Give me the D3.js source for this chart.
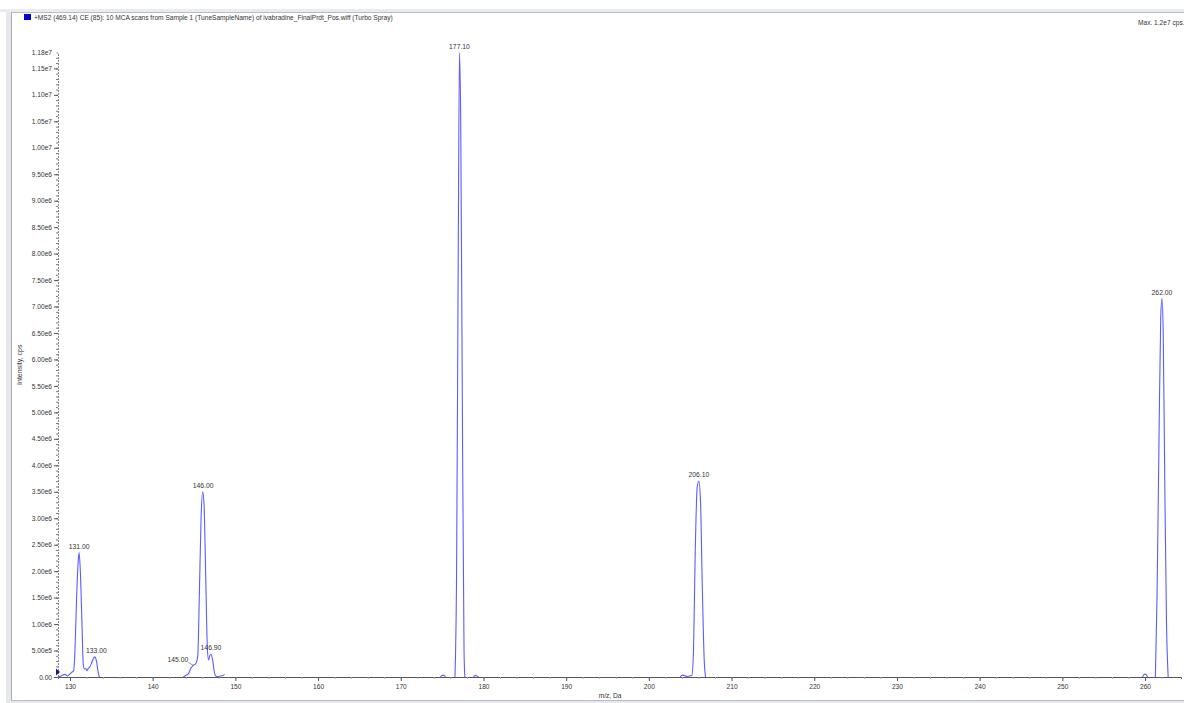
<!DOCTYPE html>
<html>
<head>
<meta charset="utf-8">
<script src="https://cdn.jsdelivr.net/npm/d3@7"></script>
<style>
  body { margin: 0; background: #fff; }
  svg text { font-family: "Liberation Sans", Arial, sans-serif; fill: #333; }
</style>
</head>
<body>
<svg id="chart" width="1184" height="703"></svg>
<script>
/* MS2 product ion spectrum, drawn as a profile trace with peak labels. */

// Profile trace, one pair of arrays per continuous stretch (m/z, cps).
var seg1Mz = [128.55, 128.8, 129.1, 129.4, 129.7, 130.0, 130.3, 130.45, 130.6, 130.8, 131.0, 131.1, 131.25, 131.45, 131.6, 131.75, 131.9, 132.05, 132.2, 132.4, 132.6, 132.8, 133.0, 133.2, 133.4, 133.55];
var seg1Int = [2e4, 1e4, 4e4, 5e4, 2e4, 6e4, 1.0e5, 1.2e5, 5e5, 1.5e6, 2.2e6, 2.35e6, 2.0e6, 1.0e6, 2.5e5, 1.5e5, 1.6e5, 1.2e5, 1.6e5, 1.9e5, 2.6e5, 3.4e5, 3.8e5, 3.0e5, 1.0e5, 0];

var seg2Mz = [143.7, 144.0, 144.3, 144.6, 144.9, 145.2, 145.45, 145.65, 145.85, 146.05, 146.2, 146.4, 146.6, 146.75, 146.9, 147.05, 147.25, 147.45, 147.65, 147.9, 148.2, 148.5, 148.7];
var seg2Int = [0, 3e4, 6e4, 1.6e5, 2.2e5, 2.5e5, 4e5, 1.6e6, 3.0e6, 3.5e6, 3.3e6, 2.0e6, 6e5, 3.2e5, 4.0e5, 4.3e5, 3.2e5, 1.0e5, 1.5e4, 1e4, 2e4, 3e4, 5e4];

var seg3Mz = [174.8, 175.0, 175.2, 175.4];
var seg3Int = [0, 3e4, 3e4, 0];

var seg4Mz = [176.55, 176.75, 176.95, 177.1, 177.25, 177.45, 177.65, 177.75];
var seg4Int = [0, 2e6, 8e6, 1.18e7, 1.05e7, 5e6, 5e5, 0];

var seg5Mz = [178.8, 179.0, 179.2, 179.4];
var seg5Int = [0, 3e4, 2e4, 0];

var seg6Mz = [203.8, 204.0, 204.3, 204.6, 204.9, 205.2, 205.4, 205.6, 205.85, 206.05, 206.25, 206.45, 206.7, 206.85];
var seg6Int = [0, 3e4, 3e4, 1e4, 2e4, 3e4, 5e5, 2.3e6, 3.6e6, 3.7e6, 3.3e6, 1.8e6, 3e5, 0];

var seg7Mz = [259.7, 259.9, 260.1, 260.3];
var seg7Int = [0, 5e4, 5e4, 0];

var seg8Mz = [261.25, 261.45, 261.7, 261.9, 262.05, 262.2, 262.4, 262.6, 262.8];
var seg8Int = [0, 1.5e6, 4.6e6, 6.8e6, 7.15e6, 6.5e6, 3.5e6, 1e6, 0];

// Peak labels.
var peakText = ["131.00", "133.00", "145.00", "146.00", "146.90", "177.10", "206.10", "262.00"];
var peakMz = [131.1, 133.2, 144.9, 146.1, 147.05, 177.1, 206.05, 262.05];
var peakInt = [2.35e6, 3.8e5, 2.2e5, 3.5e6, 4.3e5, 1.18e7, 3.7e6, 7.15e6];

// Axis ticks.
var xTicks = [130, 140, 150, 160, 170, 180, 190, 200, 210, 220, 230, 240, 250, 260];
var yTicks = [0, 5e5, 1e6, 1.5e6, 2e6, 2.5e6, 3e6, 3.5e6, 4e6, 4.5e6, 5e6, 5.5e6, 6e6, 6.5e6, 7e6, 7.5e6, 8e6, 8.5e6, 9e6, 9.5e6, 1e7, 1.05e7, 1.1e7, 1.15e7];
var yMax = 1.18e7;

var titleText = "+MS2 (469.14) CE (85): 10 MCA scans from Sample 1 (TuneSampleName) of ivabradine_FinalPrdt_Pos.wiff (Turbo Spray)";
var maxText = "Max. 1.2e7 cps.";

(function () {
  "use strict";

  var svg = d3.select("#chart"),
    plotLeft = 58,
    plotRight = 1181,
    plotTop = 52.5,
    plotBottom = 677,
    lineColor = "#5c5cff",
    fontFamily = "Liberation Sans, Arial, sans-serif";

  // Window frame.
  svg.append("rect").attr("x", 0).attr("y", 9).attr("width", 1184).attr("height", 3).attr("fill", "#e8ebf0");
  svg.append("line").attr("x1", 8).attr("x2", 1184).attr("y1", 12.5).attr("y2", 12.5).attr("stroke", "#b8bcc4");
  svg.append("rect").attr("x", 6).attr("y", 12).attr("width", 5).attr("height", 691).attr("fill", "#e6e8ec");
  svg.append("line").attr("x1", 11.5).attr("x2", 11.5).attr("y1", 12).attr("y2", 701).attr("stroke", "#a8acb4");
  svg.append("line").attr("x1", 11).attr("x2", 1184).attr("y1", 700.5).attr("y2", 700.5).attr("stroke", "#b8bcc4");
  svg.append("rect").attr("x", 11).attr("y", 701).attr("width", 1173).attr("height", 2).attr("fill", "#e6e8ec");

  var x = d3.scaleLinear().domain([128.55, 264.35]).range([plotLeft, plotRight]);
  var y = d3.scaleLinear().domain([0, yMax]).range([plotBottom, plotTop]);

  // Header.
  svg.append("rect").attr("x", 24).attr("y", 14).attr("width", 7).attr("height", 6).attr("fill", "#0000d0");
  svg.append("text").attr("x", 34).attr("y", 20).attr("font-size", 6.6).text(titleText);
  svg.append("text").attr("x", 1138).attr("y", 25).attr("font-size", 6.6).text(maxText);

  // Y axis with minor ticks every 1e5.
  var yMinor = svg.append("g").attr("transform", "translate(" + plotLeft + ",0)")
    .call(d3.axisLeft(y).tickValues(d3.range(0, yMax, 1e5)).tickSize(2).tickFormat(""));
  yMinor.selectAll(".tick line").attr("stroke", "#777");
  yMinor.select(".domain").attr("stroke", "#888").attr("stroke-dasharray", "2,1");

  var fmt = d3.format(".2e");
  var yMajor = svg.append("g").attr("transform", "translate(" + plotLeft + ",0)")
    .call(d3.axisLeft(y).tickValues(yTicks.concat([yMax])).tickSize(4).tickPadding(2)
      .tickFormat(function (d) { return d === 0 ? "0.00" : fmt(d).replace("+", ""); }));
  yMajor.select(".domain").remove();
  yMajor.selectAll(".tick line").attr("stroke", "#555");
  yMajor.selectAll(".tick text").attr("font-size", 6.6).attr("font-family", fontFamily).attr("fill", "#444");
  yMajor.selectAll(".tick").filter(function (d) { return d === yMax; }).select("line").remove();

  svg.append("text")
    .attr("transform", "translate(22," + ((plotTop + plotBottom) / 2) + ") rotate(-90)")
    .attr("text-anchor", "middle").attr("font-size", 7).text("Intensity, cps");

  // X axis with minor ticks every 2 Da.
  var xMinor = svg.append("g").attr("transform", "translate(0," + plotBottom + ")")
    .call(d3.axisBottom(x).tickValues(d3.range(130, 264, 2)).tickSize(2).tickFormat(""));
  xMinor.select(".domain").attr("stroke", "#555");
  xMinor.selectAll(".tick line").attr("stroke", "#aaa");
  var xAxis = svg.append("g").attr("transform", "translate(0," + plotBottom + ")")
    .call(d3.axisBottom(x).tickValues(xTicks).tickSize(4).tickPadding(3).tickFormat(d3.format("d")));
  xAxis.select(".domain").remove();
  xAxis.selectAll(".tick line").attr("stroke", "#555");
  xAxis.selectAll(".tick text").attr("font-size", 6.6).attr("font-family", fontFamily).attr("fill", "#444");

  svg.append("text").attr("x", 610).attr("y", 698).attr("text-anchor", "middle").attr("font-size", 6.6).text("m/z, Da");

  // Spectrum trace.
  var segments = [
    [seg1Mz, seg1Int], [seg2Mz, seg2Int], [seg3Mz, seg3Int], [seg4Mz, seg4Int],
    [seg5Mz, seg5Int], [seg6Mz, seg6Int], [seg7Mz, seg7Int], [seg8Mz, seg8Int]
  ];
  var line = d3.line()
    .x(function (d) { return x(d[0]); })
    .y(function (d) { return y(d[1]); })
    .curve(d3.curveMonotoneX);

  svg.append("g").selectAll("path")
    .data(segments.map(function (s) { return d3.zip(s[0], s[1]); }))
    .enter().append("path")
    .attr("d", line)
    .attr("fill", "none")
    .attr("stroke", lineColor)
    .attr("stroke-width", 1.1);

  // Marker at the start of the trace.
  svg.append("path")
    .attr("d", "M" + (plotLeft - 2) + "," + y(1.6e5) + " l4,3.5 l-4,3.5 z")
    .attr("fill", "#1a1a90");

  // Peak labels; 145.00 sits to the left with a short leader.
  var labels = svg.append("g").selectAll("g")
    .data(d3.zip(peakText, peakMz, peakInt))
    .enter().append("g");

  labels.append("text")
    .attr("x", function (d) { return d[0] === "145.00" ? x(d[1]) - 5 : x(d[1]); })
    .attr("y", function (d) { return d[0] === "145.00" ? y(d[2]) - 3 : y(d[2]) - 4; })
    .attr("text-anchor", function (d) { return d[0] === "145.00" ? "end" : "middle"; })
    .attr("font-size", 6.8)
    .text(function (d) { return d[0]; });

  labels.filter(function (d) { return d[0] === "145.00"; })
    .append("line")
    .attr("x1", function (d) { return x(d[1]) - 5; })
    .attr("y1", function (d) { return y(d[2]) - 3; })
    .attr("x2", function (d) { return x(d[1]); })
    .attr("y2", function (d) { return y(d[2]); })
    .attr("stroke", "#555").attr("stroke-width", 0.6);
})();
</script>
</body>
</html>
